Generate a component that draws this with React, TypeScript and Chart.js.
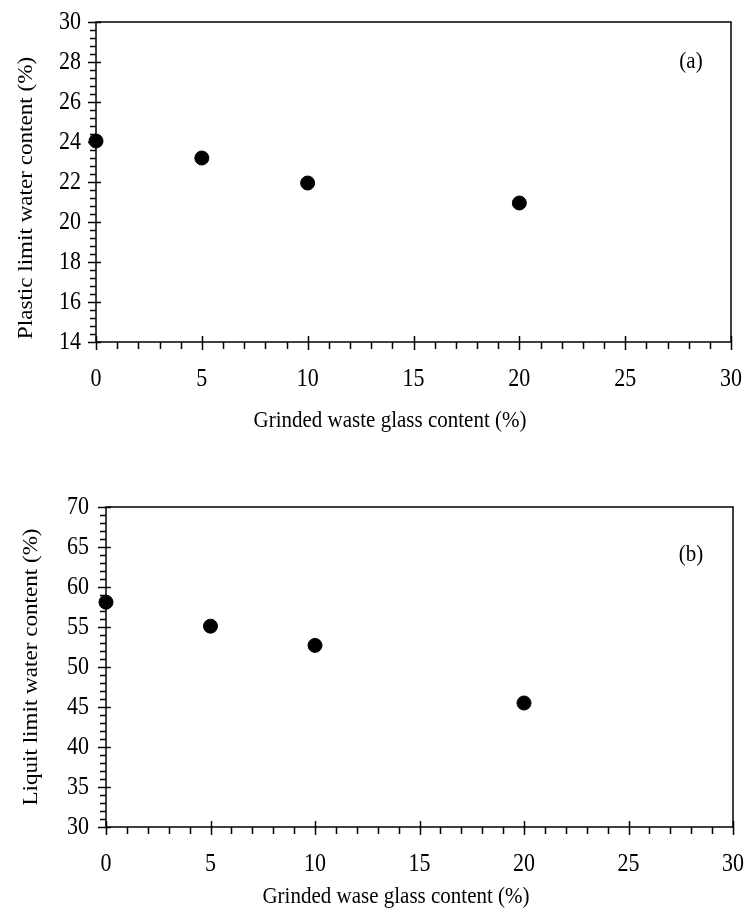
import React, { useEffect, useRef } from "react";
import { Chart, registerables } from "chart.js";

Chart.register(...registerables);

// ---- data ----
const glassContent = [0, 5, 10, 20];
const plasticLimit = [24.05, 23.2, 21.95, 20.95];
const liquidLimit = [58.1, 55.1, 52.7, 45.5];

const xTicks = [0, 5, 10, 15, 20, 25, 30];
const yTicksA = [14, 16, 18, 20, 22, 24, 26, 28, 30];
const yTicksB = [30, 35, 40, 45, 50, 55, 60, 65, 70];

const titleXA = "Grinded waste glass content (%)";
const titleXB = "Grinded wase glass content (%)";
const titleYA = "Plastic limit water content (%)";
const titleYB = "Liquit limit water content (%)";

const TICK_FONT = "22px 'Liberation Serif', 'Times New Roman', serif";
const TITLE_FONT = "21px 'Liberation Serif', 'Times New Roman', serif";
const VSTRETCH = 1.1;

type FrameOpts = {
  xTicks: number[];
  xMinor: number;
  yTicks: number[];
  yMinor: number;
  xTitle: string;
  yTitle: string;
  xLabelOffset: number;
  xTitleX: number;
  xTitleY: number;
  yTitleX: number;
  yTitleY: number;
  yLabelGap: number;
  tag: string;
  tagX: number;
  tagY: number;
};

function txt(ctx: any, s: string, x: number, y: number, rotated = false) {
  ctx.save();
  ctx.translate(x, y);
  if (rotated) {
    ctx.rotate(-Math.PI / 2);
    ctx.scale(VSTRETCH, 1);
  } else {
    ctx.scale(1, VSTRETCH);
  }
  ctx.fillText(s, 0, 0);
  ctx.restore();
}

const framePlugin = {
  id: "frame",
  beforeDatasetsDraw(chart: any, _args: any, opts: FrameOpts) {
    const { ctx, chartArea: a } = chart;
    const x = chart.scales.x;
    const y = chart.scales.y;
    ctx.save();
    ctx.strokeStyle = "#000";
    ctx.fillStyle = "#000";
    ctx.lineWidth = 1.5;
    ctx.strokeRect(a.left, a.top, a.right - a.left, a.bottom - a.top);

    ctx.beginPath();
    for (let v = x.min; v <= x.max + 1e-9; v += opts.xMinor) {
      const px = Math.round(x.getPixelForValue(v)) + 0.5;
      const isMajor = opts.xTicks.some((t) => Math.abs(t - v) < 1e-6);
      if (isMajor) {
        ctx.moveTo(px, a.bottom - 6);
        ctx.lineTo(px, a.bottom + 8);
      } else {
        ctx.moveTo(px, a.bottom);
        ctx.lineTo(px, a.bottom + 7);
      }
    }
    for (let v = y.min; v <= y.max + 1e-9; v += opts.yMinor) {
      const py = Math.round(y.getPixelForValue(v)) + 0.5;
      const isMajor = opts.yTicks.some((t) => Math.abs(t - v) < 1e-6);
      if (isMajor) {
        ctx.moveTo(a.left - 8, py);
        ctx.lineTo(a.left + 5, py);
      } else {
        ctx.moveTo(a.left - 6, py);
        ctx.lineTo(a.left, py);
      }
    }
    ctx.stroke();

    ctx.font = TICK_FONT;
    ctx.textAlign = "center";
    ctx.textBaseline = "middle";
    opts.xTicks.forEach((t) => {
      txt(ctx, String(t), x.getPixelForValue(t), a.bottom + opts.xLabelOffset);
    });
    ctx.textAlign = "right";
    opts.yTicks.forEach((t) => {
      txt(ctx, String(t), a.left - opts.yLabelGap, y.getPixelForValue(t) + 1);
    });
    ctx.font = TITLE_FONT;
    ctx.textAlign = "center";
    txt(ctx, opts.xTitle, opts.xTitleX, opts.xTitleY);
    txt(ctx, opts.yTitle, opts.yTitleX, opts.yTitleY, true);
    txt(ctx, opts.tag, opts.tagX, opts.tagY);
    ctx.restore();
  },
};

function makeConfig(
  data: number[],
  yMin: number,
  yMax: number,
  padding: { left: number; top: number; right: number; bottom: number },
  frame: FrameOpts
): any {
  return {
    type: "scatter",
    data: {
      datasets: [
        {
          data: glassContent.map((g, i) => ({ x: g, y: data[i] })),
          backgroundColor: "#000",
          borderColor: "#000",
          pointRadius: 7,
          pointHoverRadius: 7,
          clip: false,
        },
      ],
    },
    options: {
      responsive: false,
      animation: false,
      devicePixelRatio: 1,
      layout: { padding },
      plugins: {
        legend: { display: false },
        tooltip: { enabled: false },
        frame,
      },
      scales: {
        x: { type: "linear", min: 0, max: 30, display: false },
        y: { type: "linear", min: yMin, max: yMax, display: false },
      },
    },
    plugins: [framePlugin],
  };
}

export default function App() {
  const refA = useRef<HTMLCanvasElement>(null);
  const refB = useRef<HTMLCanvasElement>(null);

  useEffect(() => {
    const cA = new Chart(
      refA.current!,
      makeConfig(
        plasticLimit,
        14,
        30,
        { left: 96, top: 22, right: 13, bottom: 455 - 342 },
        {
          xTicks,
          xMinor: 1,
          yTicks: yTicksA,
          yMinor: 0.4,
          xTitle: titleXA,
          yTitle: titleYA,
          xLabelOffset: 38,
          xTitleX: 390,
          xTitleY: 421,
          yTitleX: 26,
          yTitleY: 198,
          yLabelGap: 15,
          tag: "(a)",
          tagX: 691,
          tagY: 62,
        }
      )
    );
    const cB = new Chart(
      refB.current!,
      makeConfig(
        liquidLimit,
        30,
        70,
        { left: 106, top: 507 - 455, right: 11, bottom: 911 - 827 },
        {
          xTicks,
          xMinor: 1,
          yTicks: yTicksB,
          yMinor: 1,
          xTitle: titleXB,
          yTitle: titleYB,
          xLabelOffset: 38,
          xTitleX: 396,
          xTitleY: 897 - 455,
          yTitleX: 31,
          yTitleY: 667 - 455,
          yLabelGap: 17,
          tag: "(b)",
          tagX: 691,
          tagY: 555 - 455,
        }
      )
    );
    return () => {
      cA.destroy();
      cB.destroy();
    };
  }, []);

  return (
    <div style={{ position: "absolute", left: 0, top: 0, width: 744, height: 911, background: "#fff" }}>
      <canvas ref={refA} width={744} height={455} style={{ display: "block" }} />
      <canvas ref={refB} width={744} height={456} style={{ display: "block" }} />
    </div>
  );
}
